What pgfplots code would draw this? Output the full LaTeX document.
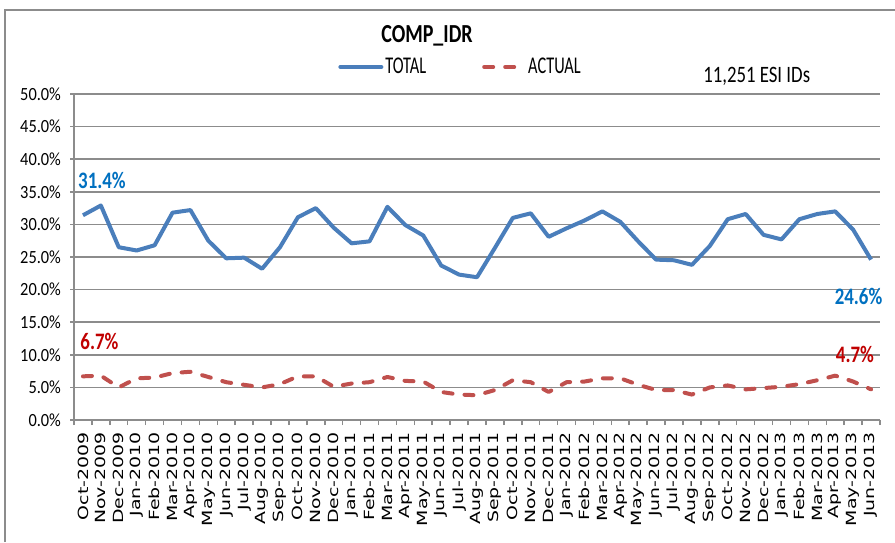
\documentclass[border=0pt]{standalone}
\usepackage{pgfplots}
\pgfplotsset{compat=1.18}
\usepackage{fontspec}
\setmainfont{Carlito}
% the chart is squeezed sideways, so the fonts are too
\newfontfamily\titlefont[FakeStretch=0.77]{Carlito}
\newfontfamily\legfont[FakeStretch=0.68]{Carlito}
\newfontfamily\notefont[FakeStretch=0.8]{Carlito}
\newfontfamily\ytfont[FakeStretch=0.88]{Carlito}
\newfontfamily\dlfont[FakeStretch=0.8]{Carlito}
\newfontfamily\xlfont[FakeStretch=1.35]{DejaVu Sans}

\definecolor{totalblue}{HTML}{4A7EBB}
\definecolor{actualred}{HTML}{C0504D}
\definecolor{lblblue}{HTML}{0070C0}
\definecolor{lblred}{HTML}{C00000}
\definecolor{gridgray}{HTML}{8C8C8C}

\pgfplotsset{
    totalleg/.style={legend image code/.code={\draw[##1, line cap=round] (1pt,0pt) -- (21.5pt,0pt);}},
    actualleg/.style={legend image code/.code={\path[draw=none] (0pt,0pt) -- (22pt,0pt); \draw[##1] (1pt,0pt) -- (16pt,0pt);}},
}

\pgfplotstableread{
i total actual
0 31.4 6.7
1 32.9 6.8
2 26.5 5.0
3 26.0 6.4
4 26.8 6.5
5 31.8 7.2
6 32.2 7.4
7 27.5 6.6
8 24.8 5.8
9 24.9 5.4
10 23.2 5.0
11 26.5 5.5
12 31.1 6.7
13 32.5 6.7
14 29.5 5.1
15 27.1 5.6
16 27.4 5.8
17 32.7 6.6
18 29.9 6.0
19 28.3 5.9
20 23.7 4.3
21 22.3 3.9
22 21.9 3.8
23 26.4 4.6
24 31.0 6.1
25 31.7 5.8
26 28.1 4.3
27 29.4 5.8
28 30.6 5.9
29 32.0 6.4
30 30.4 6.4
31 27.4 5.4
32 24.6 4.6
33 24.5 4.6
34 23.8 3.9
35 26.7 5.0
36 30.8 5.3
37 31.6 4.7
38 28.4 4.9
39 27.7 5.1
40 30.8 5.5
41 31.6 6.1
42 32.0 6.8
43 29.2 5.9
44 24.6 4.7
}\idrdata

\begin{document}
\begin{tikzpicture}
% page = 895x542 px, 1px = 0.5pt
\useasboundingbox (0,0) rectangle (447.5pt,-271pt);
\draw[gridgray, line width=1pt] (2.5pt,-271pt) -- (2.5pt,-5pt) -- (447.5pt,-5pt);

\begin{axis}[
    at={(37pt,-210pt)}, anchor=south west,
    scale only axis,
    width=403pt, height=163pt,
    xmin=-0.5, xmax=44.5,
    ymin=0, ymax=50,
    clip=false,
    axis x line*=bottom, axis y line*=left,
    axis line style={draw=gridgray, line width=0.75pt, -},
    ymajorgrids,
    grid style={gridgray, line width=0.75pt},
    ytick={0,5,...,50},
    /pgf/number format/assume math mode=true,
    yticklabel={\ytfont\pgfmathprintnumber[fixed,fixed zerofill,precision=1]{\tick}\%},
    yticklabel style={font=\ytfont\fontsize{9.3}{10}\selectfont, xshift=-1pt},
    tick align=outside,
    major tick length=2pt,
    minor tick length=2.5pt,
    major y tick style={gridgray, line width=0.75pt},
    major x tick style={draw=none},
    minor x tick style={gridgray, line width=0.75pt},
    xtick={0,...,44},
    minor xtick={-0.5,0.5,...,44.5},
    xticklabels={Oct-2009,Nov-2009,Dec-2009,Jan-2010,Feb-2010,Mar-2010,Apr-2010,May-2010,Jun-2010,Jul-2010,Aug-2010,Sep-2010,Oct-2010,Nov-2010,Dec-2010,Jan-2011,Feb-2011,Mar-2011,Apr-2011,May-2011,Jun-2011,Jul-2011,Aug-2011,Sep-2011,Oct-2011,Nov-2011,Dec-2011,Jan-2012,Feb-2012,Mar-2012,Apr-2012,May-2012,Jun-2012,Jul-2012,Aug-2012,Sep-2012,Oct-2012,Nov-2012,Dec-2012,Jan-2013,Feb-2013,Mar-2013,Apr-2013,May-2013,Jun-2013},
    xticklabel style={rotate=90, anchor=east, font=\xlfont\fontsize{7}{8}\selectfont, inner sep=1pt, xshift=-3pt},
    legend columns=2,
    legend style={at={(0.3275,1.083)}, anchor=west, draw=none, fill=none,
        font=\legfont\fontsize{12}{13}\selectfont, inner sep=0pt,
        nodes={inner sep=1pt},
        /tikz/every even column/.append style={column sep=27pt}},
]
\addplot[totalblue, line width=2pt, line join=round, totalleg]
    table[x=i, y=total] {\idrdata};
\addlegendentry{TOTAL}
\addplot[actualred, line width=2pt, line cap=round, line join=round,
    dash pattern=on 4.5pt off 6pt, actualleg]
    table[x=i, y=actual] {\idrdata};
\addlegendentry{ACTUAL}

\node[font=\titlefont\bfseries\fontsize{13}{14}\selectfont] at (rel axis cs:0.438,1.178) {COMP\_IDR};
\node[font=\notefont\fontsize{11.75}{13}\selectfont] at (rel axis cs:0.847,1.053) {11,251 ESI IDs};

\node[font=\dlfont\bfseries\fontsize{11.8}{13}\selectfont, text=lblblue] at (axis cs:1.06,36.7) {31.4\%};
\node[font=\dlfont\bfseries\fontsize{11.8}{13}\selectfont, text=lblred] at (axis cs:0.92,12.0) {6.7\%};
\node[font=\dlfont\bfseries\fontsize{11.8}{13}\selectfont, text=lblblue] at (axis cs:43.3,19.0) {24.6\%};
\node[font=\dlfont\bfseries\fontsize{11.8}{13}\selectfont, text=lblred] at (axis cs:43.1,10.0) {4.7\%};
\end{axis}
\end{tikzpicture}
\end{document}
